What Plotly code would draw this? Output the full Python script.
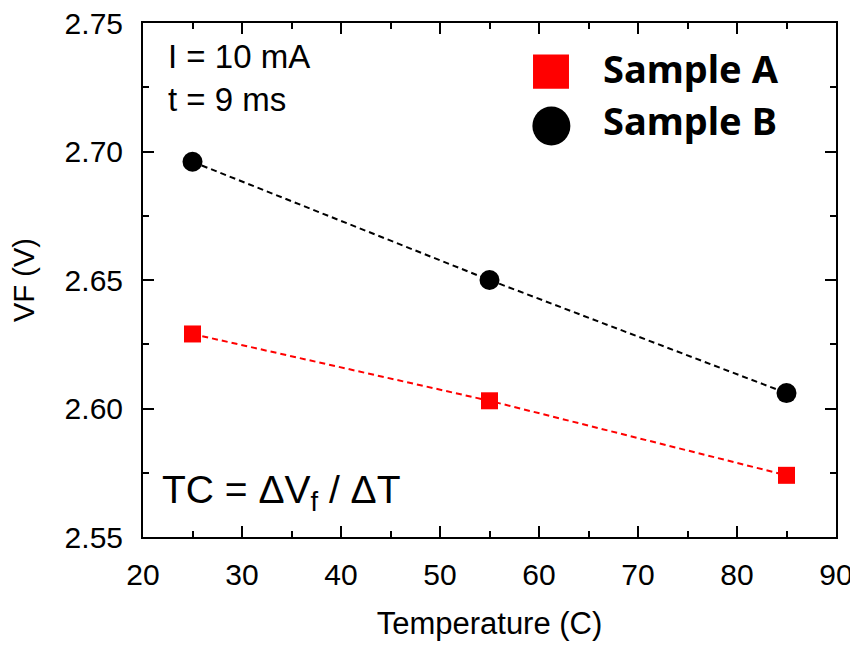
import plotly.graph_objects as go

temperature = [25, 55, 85]
sample_a = [2.629, 2.603, 2.574]
sample_b = [2.696, 2.650, 2.606]
x_ticks = [20, 30, 40, 50, 60, 70, 80, 90]
y_ticks = [2.55, 2.60, 2.65, 2.70, 2.75]
series_names = ["Sample A", "Sample B"]

fig = go.Figure()
fig.add_trace(go.Scatter(x=temperature, y=sample_b, mode="lines",
                         line=dict(color="black", width=2, dash="6px,4px"), showlegend=False))
fig.add_trace(go.Scatter(x=temperature, y=sample_a, mode="lines",
                         line=dict(color="red", width=2, dash="6px,4px"), showlegend=False))
fig.add_trace(go.Scatter(x=temperature, y=sample_a, mode="markers", name=series_names[0],
                         showlegend=False,
                         marker=dict(symbol="square", size=17, color="red")))
fig.add_trace(go.Scatter(x=temperature, y=sample_b, mode="markers", name=series_names[1],
                         showlegend=False,
                         marker=dict(symbol="circle", size=20, color="black")))

tickfont = dict(family="Liberation Sans, Arial", size=30, color="black")
axis_common = dict(showline=True, linecolor="black", linewidth=2, mirror="ticks",
                   ticks="inside", ticklen=11, tickwidth=2, tickcolor="black",
                   showgrid=False, zeroline=False, automargin=False, tickfont=tickfont,
                   ticklabeloverflow="allow")

fig.update_xaxes(range=[20, 90], tickvals=x_ticks, ticklabelstandoff=10, **axis_common,
                 minor=dict(ticks="inside", ticklen=6, tickwidth=2, dtick=5, tickcolor="black"),
                 title=dict(text="Temperature (C)", standoff=22,
                            font=dict(family="Liberation Sans, Arial", size=31, color="black")))
fig.update_yaxes(range=[2.55, 2.75], tickvals=y_ticks, tickformat=".2f", ticklabelstandoff=12,
                 **axis_common,
                 minor=dict(ticks="inside", ticklen=6, tickwidth=2, dtick=0.025, tickcolor="black"),
                 title=dict(text="VF (V)", standoff=22,
                            font=dict(family="Liberation Sans, Arial", size=29, color="black")))

txt = "Liberation Sans, Arial"
fig.add_annotation(x=0.033, y=0.934, xref="paper", yref="paper", xanchor="left", yanchor="middle",
                   text="I = 10 mA", showarrow=False, font=dict(family=txt, size=33, color="black"))
fig.add_annotation(x=0.033, y=0.852, xref="paper", yref="paper", xanchor="left", yanchor="middle",
                   text="t = 9 ms", showarrow=False, font=dict(family=txt, size=33, color="black"))
fig.add_annotation(x=0.024, y=0.087, xref="paper", yref="paper", xanchor="left", yanchor="middle",
                   text="TC = ΔV<sub>f</sub> / ΔT", showarrow=False,
                   font=dict(family=txt, size=39, color="black"))

# custom legend (keys larger than the data markers, as in the reference)
fig.add_shape(type="rect", xref="paper", yref="paper", x0=0.5628, x1=0.6147, y0=0.8721, y1=0.9388,
              fillcolor="red", line=dict(width=0))
fig.add_shape(type="circle", xref="paper", yref="paper", x0=0.5619, x1=0.6167, y0=0.7619, y1=0.8377,
              fillcolor="black", line=dict(width=0))
legfont = dict(family="Noto Sans, Open Sans", size=38, color="black", weight="bold")
fig.add_annotation(x=0.661, y=0.912, xref="paper", yref="paper", xanchor="left", yanchor="middle",
                   text=series_names[0], showarrow=False, font=legfont)
fig.add_annotation(x=0.661, y=0.811, xref="paper", yref="paper", xanchor="left", yanchor="middle",
                   text=series_names[1], showarrow=False, font=legfont)

# the page body has an 8px default margin, so the figure is 8px smaller than the window
fig.update_layout(
    width=850, height=647,
    margin=dict(l=135, r=21.5, t=15, b=118),
    plot_bgcolor="white", paper_bgcolor="white",
    showlegend=False,
)

fig.write_html("out.html")
